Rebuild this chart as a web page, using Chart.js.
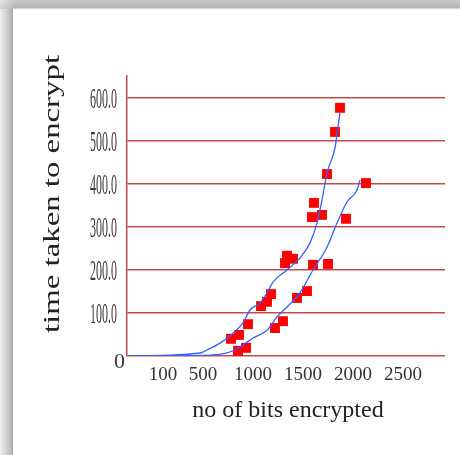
<!DOCTYPE html>
<html>
<head>
<meta charset="utf-8">
<script src="https://cdn.jsdelivr.net/npm/chart.js@4"></script>
<style>
  html, body { margin: 0; padding: 0; background: #fff; }
  #frame { position: relative; width: 460px; height: 455px; overflow: hidden; background: #fff; }
  #topband { position: absolute; left: 0; top: 0; width: 460px; height: 9px;
    background: linear-gradient(to bottom, #c9c9c9, #b3b3b3 85%, #e6e6e6); }
  #leftband { position: absolute; left: 0; top: 9px; width: 13px; height: 446px;
    background: linear-gradient(to right, #efefef, #c4c4c4 70%, #a9a9a9); }
  #corner { position: absolute; left: 0; top: 0; width: 13px; height: 9px;
    background: linear-gradient(135deg, #e8e8e8, #b8b8b8); }
  canvas { position: absolute; left: 0; top: 0; }
</style>
</head>
<body>
<div id="frame">
  <div id="topband"></div>
  <div id="leftband"></div>
  <div id="corner"></div>
  <canvas id="chart" width="460" height="455"></canvas>
</div>
<script>
// tick labels
var xTicks = [100, 500, 1000, 1500, 2000, 2500];
var yTicks = [0, 100, 200, 300, 400, 500, 600];
var yLabels = ["0", "100.0", "200.0", "300.0", "400.0", "500.0", "600.0"];

// red squares (measured samples)
var pointsX = [1870, 1820, 1740, 2130, 1610, 1590, 1690, 1930, 1340, 1400, 1320, 1600, 1750,
               1180, 1140, 1080, 1540, 1440, 1300, 1220, 950, 860, 780, 930, 850];
var pointsY = [577, 521, 423, 402, 356, 323, 328, 319, 233, 226, 216, 212, 214,
               144, 126, 116, 151, 135, 81, 65, 74, 49, 40, 19, 12];

// left blue curve
var curveAx = [-230, 470, 540, 670, 800, 900, 970, 1070, 1140, 1200, 1340, 1470, 1570, 1640, 1690, 1740, 1820, 1850, 1870];
var curveAy = [0, 7, 14, 30, 53, 77, 107, 123, 147, 172, 200, 228, 263, 309, 363, 426, 484, 533, 565];

// right blue curve
var curveBx = [-230, 570, 740, 870, 1000, 1140, 1240, 1340, 1470, 1600, 1740, 1840, 1940, 2040, 2070];
var curveBy = [0, 2, 7, 21, 42, 60, 91, 114, 147, 200, 253, 309, 358, 386, 409];

var xTitle = "no of bits encrypted";
var yTitle = "time taken to encrypt";

function toXY(xs, ys) {
    var out = [];
    for (let i in xs) {
        out.push({ x: xs[i], y: ys[i] });
    }
    return out;
}

var gridRed = "rgba(185, 45, 45, 0.85)";

// draws the squeezed y labels and both axis titles
var axisText = {
    id: "axisText",
    afterDraw: function(chart) {
        var ctx = chart.ctx;
        var yScale = chart.scales.y;
        var area = chart.chartArea;
        ctx.save();
        ctx.fillStyle = "#3a3a3a";
        ctx.textAlign = "right";
        ctx.textBaseline = "middle";
        for (let i in yTicks) {
            var py = yScale.getPixelForValue(yTicks[i]);
            if (yTicks[i] === 0) {
                ctx.font = '22px "Liberation Serif"';
                ctx.fillText(yLabels[i], area.left - 2, py + 6);
            } else {
                ctx.save();
                ctx.translate(area.left - 10, py + 2);
                ctx.scale(0.4, 1);
                ctx.font = '30px "Liberation Serif"';
                ctx.fillText(yLabels[i], 0, 0);
                ctx.restore();
            }
        }
        ctx.fillStyle = "#222";
        ctx.textAlign = "center";
        ctx.font = '24px "Liberation Serif"';
        ctx.fillText(xTitle, (area.left + area.right) / 2 + 2, 411);
        // y title is drawn wide in the original, stretch it to its length
        ctx.save();
        ctx.translate(53, 194);
        ctx.rotate(-Math.PI / 2);
        ctx.font = '23px "Liberation Serif"';
        var w = ctx.measureText(yTitle).width;
        ctx.scale(278 / w, 1);
        ctx.fillText(yTitle, 0, 0);
        ctx.restore();
        ctx.restore();
    }
};

var ctx = document.getElementById("chart").getContext("2d");
var myChart = new Chart(ctx, {
    type: "scatter",
    data: {
        datasets: [{
            label: "curve 1",
            data: toXY(curveAx, curveAy),
            showLine: true,
            borderColor: "rgb(55, 95, 255)",
            borderWidth: 1.3,
            pointRadius: 0,
            cubicInterpolationMode: "monotone",
            order: 0
        }, {
            label: "curve 2",
            data: toXY(curveBx, curveBy),
            showLine: true,
            borderColor: "rgb(55, 95, 255)",
            borderWidth: 1.3,
            pointRadius: 0,
            cubicInterpolationMode: "monotone",
            order: 0
        }, {
            label: "samples",
            data: toXY(pointsX, pointsY),
            pointStyle: "rect",
            pointRadius: 7,
            backgroundColor: "#ff0000",
            borderWidth: 0,
            order: 1
        }]
    },
    options: {
        responsive: false,
        animation: false,
        devicePixelRatio: 1,
        layout: { padding: { left: 20, top: 76, right: 15, bottom: 20 } },
        plugins: { legend: { display: false }, tooltip: { enabled: false } },
        scales: {
            x: {
                type: "linear",
                min: -260,
                max: 2920,
                afterBuildTicks: function(scale) {
                    scale.ticks = xTicks.map(function(v) { return { value: v }; });
                },
                afterFit: function(scale) { scale.height = 79; },
                grid: { display: false, drawTicks: false },
                border: { display: false },
                ticks: {
                    color: "#333",
                    padding: 8,
                    maxRotation: 0,
                    autoSkip: false,
                    font: { family: "Liberation Serif", size: 19 },
                    callback: function(v) { return String(v); }
                }
            },
            y: {
                type: "linear",
                min: 0,
                max: 651,
                afterBuildTicks: function(scale) {
                    scale.ticks = yTicks.map(function(v) { return { value: v }; });
                },
                afterFit: function(scale) { scale.width = 107; },
                grid: { color: gridRed, lineWidth: 1.6, drawTicks: false },
                border: { color: gridRed, width: 1.5 },
                ticks: { display: false }
            }
        }
    },
    plugins: [axisText]
});
</script>
</body>
</html>
